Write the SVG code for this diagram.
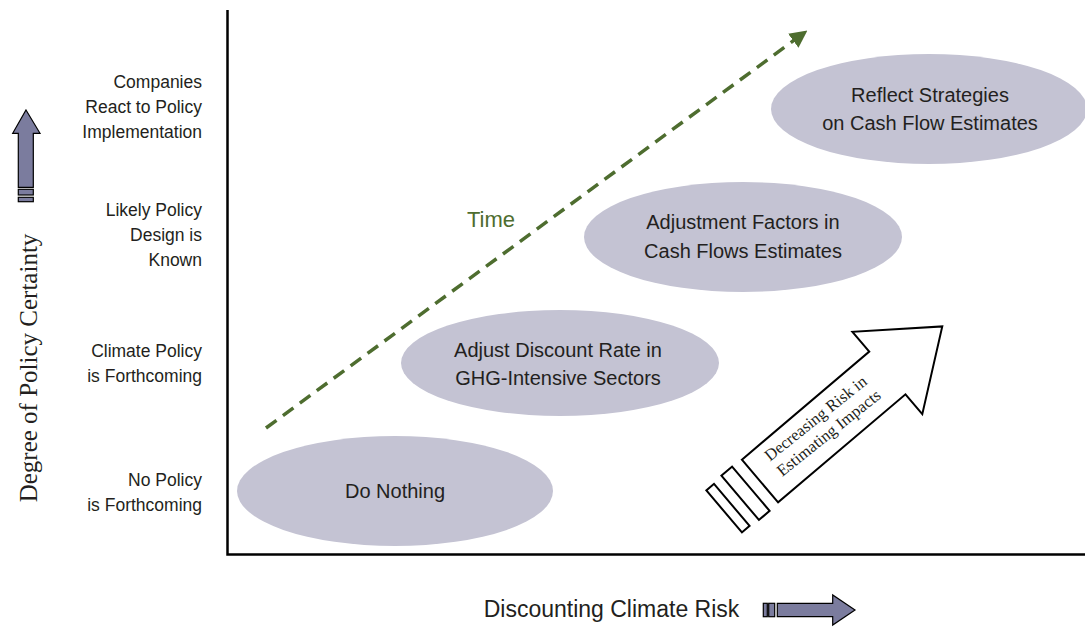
<svg xmlns="http://www.w3.org/2000/svg" width="1085" height="629" viewBox="0 0 1085 629">
<defs>
<style>
.lbl{font-family:"Liberation Sans",Arial,sans-serif;font-size:17.5px;fill:#231f20;text-anchor:end}
.el{fill:#c4c3d3;stroke:none}
.et{font-family:"Liberation Sans",Arial,sans-serif;font-size:20px;fill:#231f20;text-anchor:middle}
.blk{fill:#7b7c9e;stroke:#000;stroke-width:1.2}
.hol{fill:#fff;stroke:#000;stroke-width:2}
</style>
<marker id="gh" viewBox="0 0 10 10" refX="9" refY="5" markerWidth="5" markerHeight="5" markerUnits="strokeWidth" orient="auto">
<path d="M0,0 L10,5 L0,10 Z" fill="#4e6d2f"/>
</marker>
</defs>
<rect width="1085" height="629" fill="#fff"/>

<g id="axes" fill="none" stroke="#000" stroke-width="2.5">
<path d="M227.5,10 L227.5,554.5 L1085,554.5"/>
</g>

<g id="y-labels">
<text class="lbl" x="202" y="88">Companies</text>
<text class="lbl" x="202" y="113">React to Policy</text>
<text class="lbl" x="202" y="138">Implementation</text>
<text class="lbl" x="202" y="216">Likely Policy</text>
<text class="lbl" x="202" y="241">Design is</text>
<text class="lbl" x="202" y="266">Known</text>
<text class="lbl" x="202" y="357">Climate Policy</text>
<text class="lbl" x="202" y="382">is Forthcoming</text>
<text class="lbl" x="202" y="486">No Policy</text>
<text class="lbl" x="202" y="511">is Forthcoming</text>
</g>

<g id="y-title">
<text transform="translate(36.5,368) rotate(-90)" font-family="Liberation Serif,'Times New Roman',serif" font-size="25" fill="#231f20" text-anchor="middle">Degree of Policy Certainty</text>
<path class="blk" d="M26,110 L40,133.3 L33.3,133.3 L33.3,187.3 L18.3,187.3 L18.3,133.3 L12.7,133.3 Z"/>
<rect class="blk" x="18.3" y="189.3" width="15" height="5.7"/>
<rect class="blk" x="18.3" y="197.3" width="15" height="4.4"/>
</g>

<g id="x-title">
<text x="611.5" y="617" font-family="Liberation Sans,Arial,sans-serif" font-size="23" fill="#231f20" text-anchor="middle">Discounting Climate Risk</text>
<rect class="blk" x="763.3" y="603.3" width="4" height="13.4"/>
<rect class="blk" x="768.7" y="603.3" width="6" height="13.4"/>
<path class="blk" d="M777.3,603.3 L832.7,603.3 L832.7,595 L855,610 L832.7,625 L832.7,616.7 L777.3,616.7 Z"/>
</g>

<g id="connectors">
<path d="M266,428 L806,31.5" fill="none" stroke="#4e6d2f" stroke-width="3.5" stroke-dasharray="13 8" marker-end="url(#gh)"/>
<text x="491" y="227" font-family="Liberation Sans,Arial,sans-serif" font-size="22" fill="#4e6d2f" text-anchor="middle">Time</text>
</g>

<g id="node-do-nothing">
<ellipse class="el" cx="395" cy="491" rx="158" ry="55"/>
<text class="et" x="395" y="498">Do Nothing</text>
</g>

<g id="node-adjust-discount">
<ellipse class="el" cx="560" cy="363" rx="159" ry="53"/>
<text class="et" x="558" y="357">Adjust Discount Rate in</text>
<text class="et" x="558" y="385">GHG-Intensive Sectors</text>
</g>

<g id="node-adjustment-factors">
<ellipse class="el" cx="743" cy="237" rx="159" ry="55"/>
<text class="et" x="743" y="229">Adjustment Factors in</text>
<text class="et" x="743" y="258">Cash Flows Estimates</text>
</g>

<g id="node-reflect">
<ellipse class="el" cx="929" cy="109" rx="158" ry="55"/>
<text class="et" x="930" y="102">Reflect Strategies</text>
<text class="et" x="930" y="130">on Cash Flow Estimates</text>
</g>

<g id="node-decreasing-risk">
<g transform="translate(760,481) rotate(-40.3)">
<path class="hol" d="M0,-28 L167,-28 L167,-54 L239,0 L167,54 L167,28 L0,28 Z"/>
<rect class="hol" x="-26" y="-29" width="14" height="58"/>
<rect class="hol" x="-47" y="-27.5" width="10" height="55"/>
</g>
<text transform="translate(770,461.7) rotate(-38.6)" font-family="Liberation Serif,'Times New Roman',serif" font-size="16.5" fill="#231f20"><tspan x="0" y="0">Decreasing Risk in</tspan><tspan x="0" y="19.5">Estimating Impacts</tspan></text>
</g>
</svg>
